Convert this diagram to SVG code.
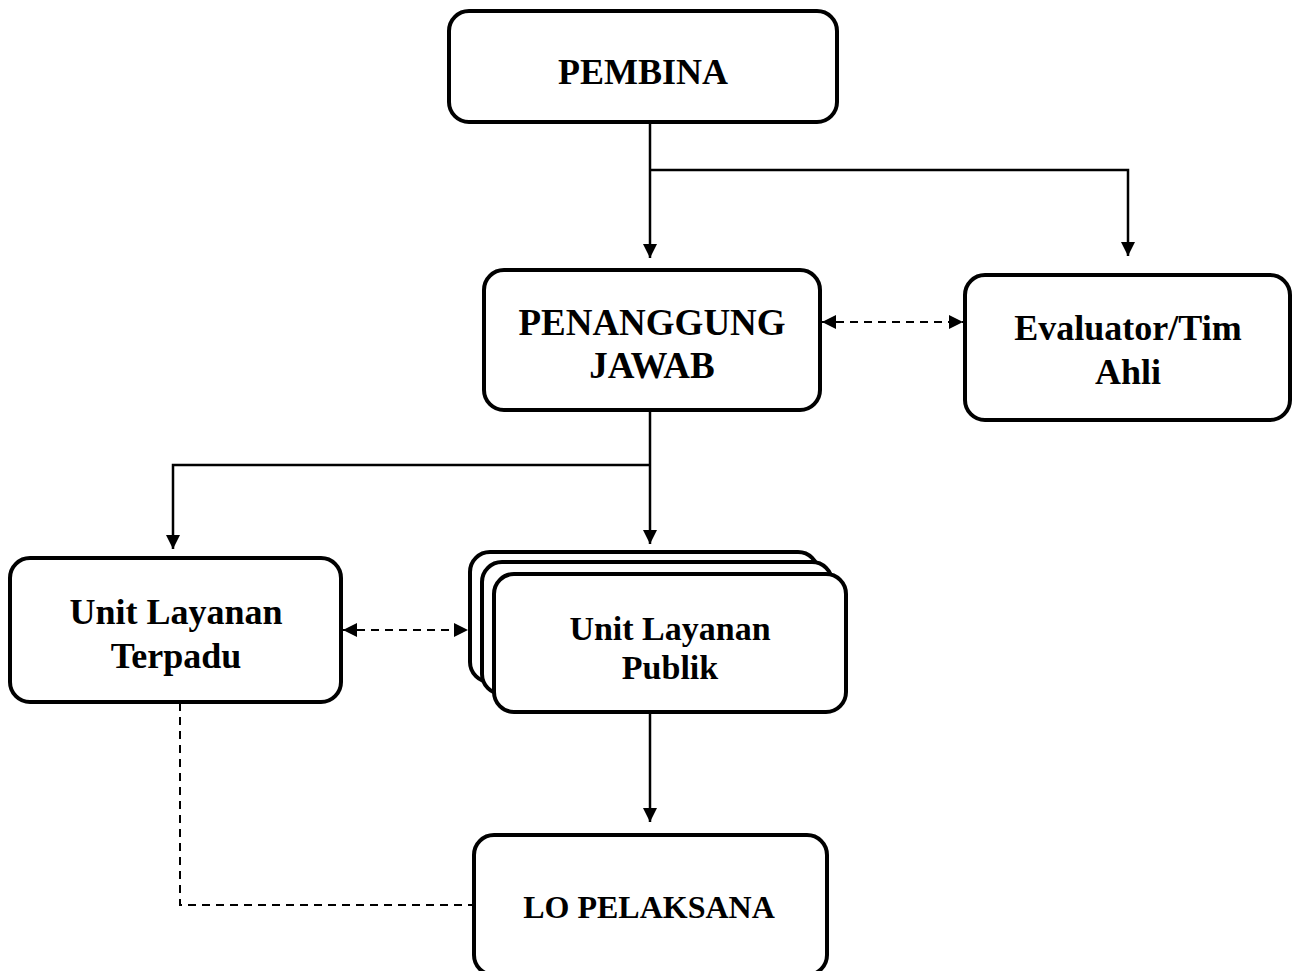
<svg xmlns="http://www.w3.org/2000/svg" width="1293" height="971" viewBox="0 0 1293 971">
<style>
.box{fill:#fff;stroke:#000;stroke-width:4}
.t{font-family:"Liberation Serif","Times New Roman",serif;font-weight:bold;fill:#000;text-anchor:middle}
.ln{fill:none;stroke:#000;stroke-width:2.5}
.dl{fill:none;stroke:#000;stroke-width:2;stroke-dasharray:8,6}
</style>
<defs>
<marker id="ah" viewBox="0 0 10 10" refX="10" refY="5" markerWidth="14" markerHeight="14" markerUnits="userSpaceOnUse" orient="auto-start-reverse">
<path d="M0,0 L10,5 L0,10 Z" fill="#000"/>
</marker>
</defs>
<rect width="1293" height="971" fill="#fff"/>
<g id="connectors">
<polyline class="ln" points="650,122 650,258" marker-end="url(#ah)"/>
<polyline class="ln" points="650,170 1128,170 1128,256" marker-end="url(#ah)"/>
<line class="dl" x1="822" y1="322" x2="963" y2="322" marker-start="url(#ah)" marker-end="url(#ah)"/>
<polyline class="ln" points="650,410 650,544" marker-end="url(#ah)"/>
<polyline class="ln" points="650,465 173,465 173,549" marker-end="url(#ah)"/>
<line class="dl" x1="343" y1="630" x2="468" y2="630" marker-start="url(#ah)" marker-end="url(#ah)"/>
<polyline class="ln" points="650,713 650,822" marker-end="url(#ah)"/>
<polyline class="dl" points="180,703 180,905 474,905"/>
</g>
<g id="pembina">
<rect class="box" x="449" y="11" width="388" height="111" rx="20"/>
<text class="t" x="643" y="84" font-size="36">PEMBINA</text>
</g>
<g id="penanggung-jawab">
<rect class="box" x="484" y="270" width="336" height="140" rx="20"/>
<text class="t" x="652" y="335" font-size="37">PENANGGUNG</text>
<text class="t" x="652" y="378" font-size="37">JAWAB</text>
</g>
<g id="evaluator">
<rect class="box" x="965" y="275" width="325" height="145" rx="20"/>
<text class="t" x="1128" y="340" font-size="36">Evaluator/Tim</text>
<text class="t" x="1128" y="384" font-size="36">Ahli</text>
</g>
<g id="unit-layanan-terpadu">
<rect class="box" x="10" y="558" width="331" height="144" rx="20"/>
<text class="t" x="176" y="624" font-size="36">Unit Layanan</text>
<text class="t" x="176" y="668" font-size="36">Terpadu</text>
</g>
<g id="unit-layanan-publik">
<rect class="box" x="470" y="552" width="348" height="130" rx="20"/>
<rect class="box" x="482" y="562" width="350" height="132" rx="20"/>
<rect class="box" x="494" y="574" width="352" height="138" rx="20"/>
<text class="t" x="670" y="640" font-size="34">Unit Layanan</text>
<text class="t" x="670" y="679" font-size="34">Publik</text>
</g>
<g id="lo-pelaksana">
<rect class="box" x="474" y="835" width="353" height="140" rx="20"/>
<text class="t" x="649" y="918" font-size="32">LO PELAKSANA</text>
</g>
</svg>
